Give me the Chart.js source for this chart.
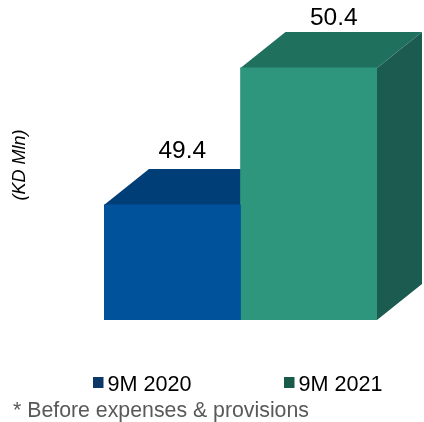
<!DOCTYPE html>
<html>
<head>
<meta charset="utf-8">
<script src="https://cdn.jsdelivr.net/npm/chart.js@4/dist/chart.umd.min.js"></script>
<style>
  html, body { margin: 0; padding: 0; background: #fff; overflow: hidden; }
  canvas { display: block; }
</style>
</head>
<body>
<canvas id="myChart" width="424" height="422"></canvas>
<script>
const categories = ["9M 2020", "9M 2021"];
const values = [49.4, 50.4];
const valueLabels = ["49.4", "50.4"];
const axisTitle = "(KD Mln)";
const footnote = "* Before expenses & provisions";

const frontColors = ["#00539b", "#2d967c"];
const topColors = ["#003e78", "#20705e"];
const sideColors = ["#00305c", "#1c5c50"];
const legendColors = ["#0c3868", "#1a5a4a"];

const FONT = '"Liberation Sans", Arial, sans-serif';
const depthX = 45;
const depthY = 36;

function face(ctx, color, pts) {
  ctx.fillStyle = color;
  ctx.beginPath();
  pts.forEach((p, i) => (i ? ctx.lineTo(p[0], p[1]) : ctx.moveTo(p[0], p[1])));
  ctx.closePath();
  ctx.fill();
}

// top and side faces go behind the bars, chart.js draws the front faces
const box3d = {
  id: "box3d",
  beforeDatasetsDraw(chart) {
    const ctx = chart.ctx;
    const base = chart.scales.y.bottom;
    categories.forEach((c, i) => {
      const bar = chart.getDatasetMeta(i).data[0];
      const l = bar.x - bar.width / 2;
      const r = bar.x + bar.width / 2;
      face(ctx, sideColors[i], [[r, bar.y], [r + depthX, bar.y - depthY], [r + depthX, base - depthY], [r, base]]);
      face(ctx, topColors[i], [[l, bar.y], [l + depthX, bar.y - depthY], [r + depthX, bar.y - depthY], [r, bar.y]]);
    });
  },
};

const labelShiftX = [10, 25];
const labelGapY = [11, 7];

const texts = {
  id: "texts",
  afterDraw(chart) {
    const ctx = chart.ctx;
    ctx.save();
    ctx.textBaseline = "alphabetic";

    // value labels
    ctx.textAlign = "center";
    ctx.fillStyle = "#000";
    ctx.font = "24.5px " + FONT;
    valueLabels.forEach((t, i) => {
      const bar = chart.getDatasetMeta(i).data[0];
      ctx.fillText(t, bar.x + labelShiftX[i], bar.y - depthY - labelGapY[i]);
    });

    // legend
    ctx.textAlign = "left";
    ctx.font = "21.6px " + FONT;
    const legendX = [93, 284];
    categories.forEach((c, i) => {
      ctx.fillStyle = legendColors[i];
      ctx.fillRect(legendX[i], 377, 10.5, 11);
      ctx.fillStyle = "#000";
      ctx.fillText(c, legendX[i] + 14.5, 391);
    });

    // footnote
    ctx.fillStyle = "#595959";
    ctx.font = "21.3px " + FONT;
    ctx.fillText(footnote, 13, 416.5);
    ctx.restore();
  },
};

new Chart(document.getElementById("myChart"), {
  type: "bar",
  data: {
    labels: [""],
    datasets: categories.map((c, i) => ({
      label: c,
      data: [values[i]],
      backgroundColor: frontColors[i],
      categoryPercentage: 1,
      barPercentage: 1,
    })),
  },
  options: {
    responsive: false,
    animation: false,
    layout: { padding: { top: 10, right: 47, bottom: 102, left: 0 } },
    plugins: { legend: { display: false }, tooltip: { enabled: false } },
    scales: {
      x: { display: false },
      y: {
        min: 48.56,
        max: 50.823,
        ticks: { display: false },
        grid: { display: false },
        border: { display: false },
        title: {
          display: true,
          text: axisTitle,
          color: "#000",
          font: { family: FONT, size: 18, style: "italic" },
          padding: { top: 9, bottom: 0 },
        },
        afterFit(axis) {
          axis.width = 104;
        },
      },
    },
  },
  plugins: [box3d, texts],
});
</script>
</body>
</html>
